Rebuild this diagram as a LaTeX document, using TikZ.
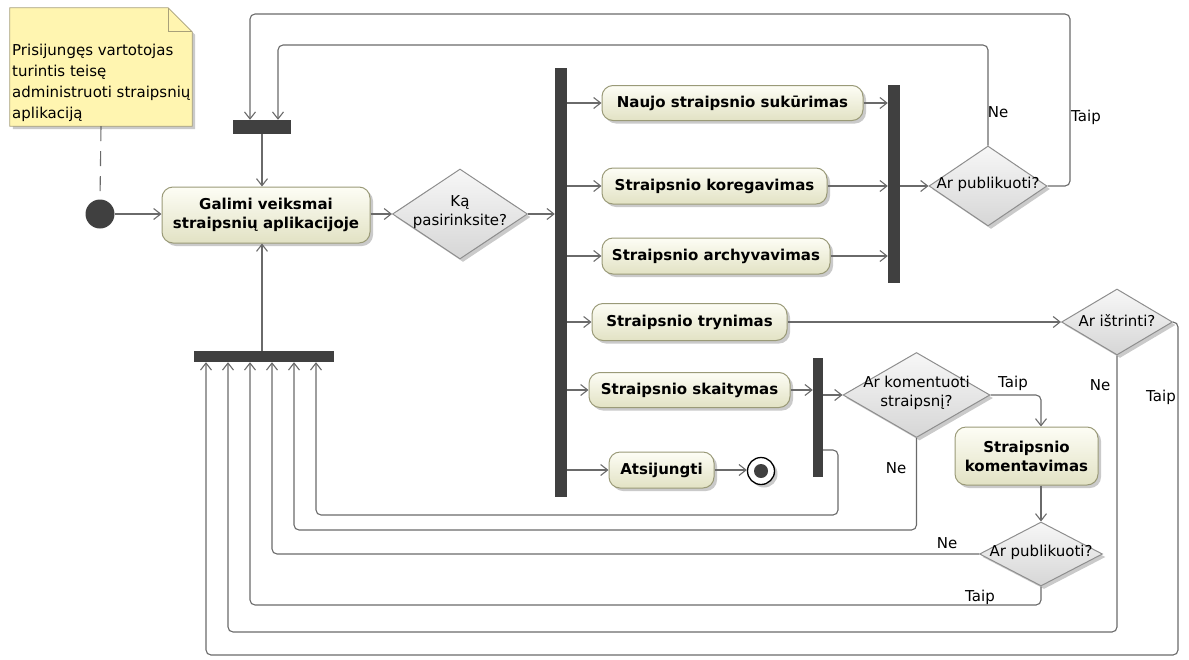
\documentclass[tikz,border=0pt]{standalone}
\usepackage{fontspec}
\setmainfont{DejaVu Sans}
\usetikzlibrary{arrows.meta,shapes.geometric,shadows,calc}
\definecolor{lc}{HTML}{6A6A6A}
\definecolor{barc}{HTML}{404040}
\definecolor{actb}{HTML}{9A9A78}
\definecolor{acttop}{HTML}{FDFDF5}
\definecolor{actbot}{HTML}{E2E2C4}
\definecolor{decb}{HTML}{8E8E8E}
\definecolor{dectop}{HTML}{F7F7F7}
\definecolor{decbot}{HTML}{D6D6D6}
\definecolor{notef}{HTML}{FFF5B0}
\definecolor{noteb}{HTML}{A8A07A}
\begin{document}
\begin{tikzpicture}[x=1pt,y=-1pt,
 conn/.style={draw=lc, line width=1.1pt, rounded corners=5pt},
 arr/.style={conn, -{Straight Barb[length=7pt,width=11pt]}},
 shd/.style={drop shadow={shadow xshift=3pt,shadow yshift=-3pt,opacity=0.35,fill=black!60}},
 action/.style={rectangle, rounded corners=11pt, draw=actb, line width=1pt, top color=acttop, bottom color=actbot, shd, font=\fontsize{15}{19}\selectfont\bfseries, align=center, inner sep=0pt},
 bar/.style={rectangle, fill=barc, draw=none, inner sep=0pt},
 dec/.style={diamond, draw=decb, line width=1pt, top color=dectop, bottom color=decbot, shd, inner sep=0pt},
 txt/.style={font=\fontsize{15}{19}\selectfont, inner sep=0pt, align=center},
]
\useasboundingbox (0,0) rectangle (1189,659);

% note
\node[minimum width=182pt, minimum height=118pt, inner sep=0pt] (note) at (101,67) {};
\filldraw[fill=notef, draw=noteb, line width=0.8pt, shd] (note.north west) -- ([xshift=-24pt]note.north east) -- ([yshift=-24pt]note.north east) -- (note.south east) -- (note.south west) -- cycle;
\draw[draw=noteb, line width=0.8pt] ([xshift=-24pt]note.north east) -- ([xshift=-24pt,yshift=-24pt]note.north east) -- ([yshift=-24pt]note.north east);
\node[txt, font=\fontsize{15}{21}\selectfont, align=left, anchor=north west] (notetxt) at (12,44) {Prisijungęs vartotojas\\turintis teisę\\administruoti straipsnių\\aplikaciją};

% nodes
\node[circle, fill=barc, minimum size=29pt, inner sep=0pt] (init) at (100,214) {};
\node[action, minimum width=208pt, minimum height=56pt] (act) at (266,215) {Galimi veiksmai\\straipsnių aplikacijoje};
\node[bar, minimum width=58pt, minimum height=14pt] (ftop) at (262,127) {};
\node[bar, minimum width=140pt, minimum height=11pt] (jbot) at (264,356.5) {};
\node[dec, minimum width=135pt, minimum height=90pt] (d1) at (460,214) {};
\node[txt] (d1t) at (460,212) {Ką\\pasirinksite?};
\node[bar, minimum width=12pt, minimum height=429pt] (fmain) at (561,282.5) {};

\node[action, minimum width=261pt, minimum height=35pt] (a1) at (732.5,103) {Naujo straipsnio sukūrimas};
\node[action, minimum width=225pt, minimum height=36pt] (a2) at (714.5,186) {Straipsnio koregavimas};
\node[action, minimum width=228pt, minimum height=36pt] (a3) at (716,256) {Straipsnio archyvavimas};
\node[action, minimum width=195pt, minimum height=37pt] (a4) at (689.5,322) {Straipsnio trynimas};
\node[action, minimum width=201pt, minimum height=35pt] (a5) at (689.5,390) {Straipsnio skaitymas};
\node[action, minimum width=105pt, minimum height=36pt] (a6) at (661.5,470) {Atsijungti};
\node[circle, draw=black, line width=1.3pt, fill=white, minimum size=27pt, inner sep=0pt, shd] (fin) at (761,471) {};
\fill[barc] (fin) circle (7pt);

\node[bar, minimum width=12pt, minimum height=198pt] (jr) at (894,184) {};
\node[dec, minimum width=118pt, minimum height=80pt] (d2) at (988,186) {};
\node[txt] (d2t) at (988,184) {Ar publikuoti?};

\node[dec, minimum width=111pt, minimum height=66pt] (d3) at (1117,322) {};
\node[txt] (d3t) at (1117,321) {Ar ištrinti?};

\node[bar, minimum width=10pt, minimum height=119pt] (fs) at (818,417.5) {};
\node[dec, minimum width=147pt, minimum height=85pt] (d4) at (916.5,395) {};
\node[txt] (d4t) at (916.5,393) {Ar komentuoti\\straipsnį?};
\node[action, minimum width=143pt, minimum height=58pt] (a7) at (1026.5,456) {Straipsnio\\komentavimas};
\node[dec, minimum width=123pt, minimum height=64pt] (d5) at (1041,554) {};
\node[txt] (d5t) at (1041,552) {Ar publikuoti?};

% helper coordinates
\coordinate (k1) at (206,0);
\coordinate (k2) at (228,0);
\coordinate (k3) at (250,0);
\coordinate (k4) at (272,0);
\coordinate (k5) at (294,0);
\coordinate (k6) at (316,0);
\coordinate (N1) at (278,45);
\coordinate (T1) at (250,14);
\coordinate (T1x) at (1070,0);
\coordinate (T3) at (1178,655);
\coordinate (N3) at (0,632);
\coordinate (T5) at (0,605);
\coordinate (N4) at (0,530);
\coordinate (L1) at (838,515);
\coordinate (L0) at (0,450);

% connectors
\draw[conn, dash pattern=on 15pt off 10pt] (note.south) -- (init.north);
\draw[arr] (init.east) -- (init.east -| act.west);
\draw[arr] (ftop.south) -- (ftop.south |- act.north);
\draw[arr] (jbot.north -| ftop.south) -- (act.south -| ftop.south);
\draw[arr] (act.east |- d1) -- (d1.west);
\draw[arr] (d1.east) -- (d1.east -| fmain.west);
\draw[arr] (fmain.east |- a1) -- (a1.west);
\draw[arr] (fmain.east |- a2) -- (a2.west);
\draw[arr] (fmain.east |- a3) -- (a3.west);
\draw[arr] (fmain.east |- a4) -- (a4.west);
\draw[arr] (fmain.east |- a5) -- (a5.west);
\draw[arr] (fmain.east |- a6) -- (a6.west);
\draw[arr] (a6.east) -- (a6.east -| fin.west);
\draw[arr] (a1.east) -- (a1.east -| jr.west);
\draw[arr] (a2.east) -- (a2.east -| jr.west);
\draw[arr] (a3.east) -- (a3.east -| jr.west);
\draw[arr] (jr.east |- d2) -- (d2.west);
\draw[arr] (d2.north) |- (N1) -- (N1 |- ftop.north);
\draw[arr] (d2.east) -| (T1x |- T1) -- (T1) -- (T1 |- ftop.north);
\draw[arr] (a4.east) -- (d3.west);
\draw[arr] (d3.east) -| (T3) -- (k1 |- T3) -- (k1 |- jbot.south);
\draw[arr] (d3.south) |- (k2 |- N3) -- (k2 |- jbot.south);
\draw[arr] (a5.east) -- (a5.east -| fs.west);
\draw[arr] (fs.east |- d4) -- (d4.west);
\draw[arr] (fs.east |- L0) -| (L1) -| (k6 |- jbot.south);
\draw[arr] (d4.south) |- (k5 |- N4) -- (k5 |- jbot.south);
\draw[arr] (d4.east) -| (a7.north -| d5.north);
\draw[arr] (a7.south -| d5.north) -- (d5.north);
\draw[arr] (d5.west) -| (k4 |- jbot.south);
\draw[arr] (d5.south) |- (k3 |- T5) -- (k3 |- jbot.south);

% labels
\node[txt] (l1) at (998,112) {Ne};
\node[txt] (l2) at (1086,117) {Taip};
\node[txt] (l3) at (1100,385) {Ne};
\node[txt] (l4) at (1161,397) {Taip};
\node[txt] (l5) at (1013,383) {Taip};
\node[txt] (l6) at (896,468) {Ne};
\node[txt] (l7) at (947,543) {Ne};
\node[txt] (l8) at (980,597) {Taip};
\end{tikzpicture}
\end{document}
